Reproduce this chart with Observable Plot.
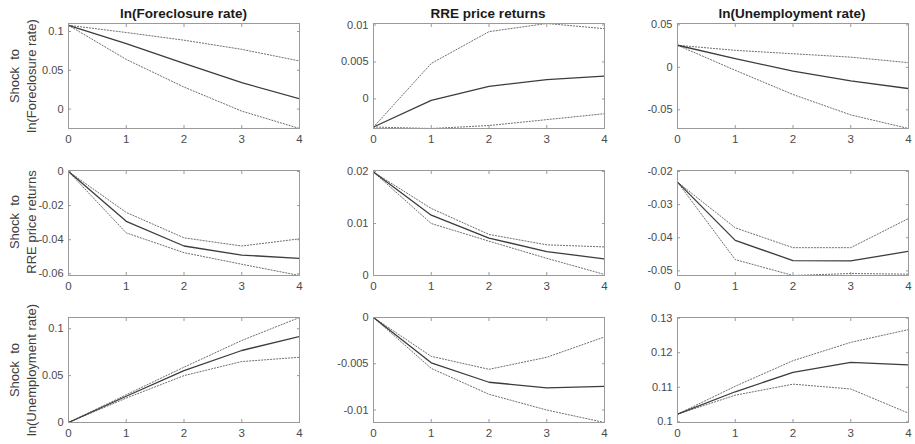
<!DOCTYPE html>
<html>
<head>
<meta charset="utf-8">
<script src="https://cdn.jsdelivr.net/npm/d3@7"></script>
<script src="https://cdn.jsdelivr.net/npm/@observablehq/plot@0.6"></script>
<style>
  body { margin: 0; background: #fff; }
  #root { position: relative; width: 915px; height: 444px; overflow: hidden; font-family: "Liberation Sans", Arial, sans-serif; background:#fff; }
  .title { position: absolute; font-weight: bold; font-size: 13.5px; color: #1a1a1a; white-space: nowrap; transform: translate(-50%, -50%); }
  .rowlab { position: absolute; font-size: 13px; color: #404040; white-space: pre; transform: translate(-50%, -50%) rotate(-90deg); line-height: 1; }
</style>
</head>
<body>
<div id="root"></div>
<script>
// ---- data ----
const horizons = [0, 1, 2, 3, 4];
const variables = ["ln(Foreclosure rate)", "RRE price returns", "ln(Unemployment rate)"];
const xTicks = [0, 1, 2, 3, 4];

// shock to ln(Foreclosure rate)
const fcToFcMid = [0.108, 0.0845, 0.059, 0.034, 0.0134];
const fcToFcUp  = [0.108, 0.0987, 0.0888, 0.077, 0.062];
const fcToFcLo  = [0.108, 0.064, 0.0284, -0.0026, -0.025];
const fcToRreMid = [-0.0038, -0.0002, 0.0017, 0.0026, 0.0031];
const fcToRreUp  = [-0.0038, 0.0048, 0.0091, 0.0102, 0.0095];
const fcToRreLo  = [-0.0038, -0.004, -0.0036, -0.0028, -0.002];
const fcToUrMid = [0.026, 0.0102, -0.0044, -0.016, -0.025];
const fcToUrUp  = [0.026, 0.02, 0.016, 0.012, 0.0055];
const fcToUrLo  = [0.026, -0.0035, -0.032, -0.056, -0.072];

// shock to RRE price returns
const rreToFcMid = [0, -0.0292, -0.0437, -0.049, -0.051];
const rreToFcUp  = [0, -0.024, -0.0389, -0.0437, -0.0395];
const rreToFcLo  = [0, -0.036, -0.0476, -0.0544, -0.061];
const rreToRreMid = [0.0199, 0.0116, 0.0072, 0.0046, 0.0032];
const rreToRreUp  = [0.0199, 0.0129, 0.0079, 0.0059, 0.0055];
const rreToRreLo  = [0.0199, 0.01, 0.0066, 0.0033, 0.0002];
const rreToUrMid = [-0.0232, -0.0408, -0.0469, -0.047, -0.0441];
const rreToUrUp  = [-0.0232, -0.037, -0.043, -0.043, -0.0342];
const rreToUrLo  = [-0.0232, -0.0466, -0.0514, -0.0508, -0.051];

// shock to ln(Unemployment rate)
const urToFcMid = [0, 0.028, 0.0554, 0.0768, 0.0918];
const urToFcUp  = [0, 0.0296, 0.059, 0.0875, 0.112];
const urToFcLo  = [0, 0.026, 0.05, 0.065, 0.0696];
const urToRreMid = [0, -0.0049, -0.007, -0.0076, -0.00745];
const urToRreUp  = [0, -0.0042, -0.0056, -0.0043, -0.0021];
const urToRreLo  = [0, -0.0055, -0.0083, -0.01, -0.01135];
const urToUrMid = [0.1022, 0.1087, 0.1143, 0.1172, 0.1165];
const urToUrUp  = [0.1022, 0.1103, 0.1177, 0.123, 0.1267];
const urToUrLo  = [0.1022, 0.1077, 0.1109, 0.1095, 0.1025];

// y tick labels per panel
const yTicks11 = [0, 0.05, 0.1];
const yTicks12 = [0, 0.005, 0.01];
const yTicks13 = [-0.05, 0, 0.05];
const yTicks21 = [-0.06, -0.04, -0.02, 0];
const yTicks22 = [0, 0.01, 0.02];
const yTicks23 = [-0.05, -0.04, -0.03, -0.02];
const yTicks31 = [0, 0.05, 0.1];
const yTicks32 = [-0.01, -0.005, 0];
const yTicks33 = [0.1, 0.11, 0.12, 0.13];

// ---- panels ----
const panels = [
  [ {mid: fcToFcMid, up: fcToFcUp, lo: fcToFcLo, ticks: yTicks11, domain: [-0.025, 0.1103]},
    {mid: fcToRreMid, up: fcToRreUp, lo: fcToRreLo, ticks: yTicks12, domain: [-0.004, 0.0102]},
    {mid: fcToUrMid, up: fcToUrUp, lo: fcToUrLo, ticks: yTicks13, domain: [-0.072, 0.0516]} ],
  [ {mid: rreToFcMid, up: rreToFcUp, lo: rreToFcLo, ticks: yTicks21, domain: [-0.061, 0.0006]},
    {mid: rreToRreMid, up: rreToRreUp, lo: rreToRreLo, ticks: yTicks22, domain: [0, 0.0202]},
    {mid: rreToUrMid, up: rreToUrUp, lo: rreToUrLo, ticks: yTicks23, domain: [-0.0514, -0.0197]} ],
  [ {mid: urToFcMid, up: urToFcUp, lo: urToFcLo, ticks: yTicks31, domain: [0, 0.112]},
    {mid: urToRreMid, up: urToRreUp, lo: urToRreLo, ticks: yTicks32, domain: [-0.01135, 0]},
    {mid: urToUrMid, up: urToUrUp, lo: urToUrLo, ticks: yTicks33, domain: [0.0998, 0.1302]} ]
];

const colLeft = [68, 372.5, 676.5];
const rowTop = [23, 169.5, 317];
const FW = 231, FH = 105;
const ML = 60, MR = 8, MT = 6, MB = 24;
const fmt = d => String(+(+d).toFixed(6));
const toRows = arr => horizons.map((h, i) => ({h, v: arr[i]}));

const root = document.getElementById("root");

panels.forEach((row, r) => {
  row.forEach((p, c) => {
    const chart = Plot.plot({
      width: ML + FW + MR,
      height: MT + FH + MB,
      marginLeft: ML, marginRight: MR, marginTop: MT, marginBottom: MB,
      style: {fontFamily: '"Liberation Sans", Arial, sans-serif', fontSize: "11px", color: "#4a4a4a", background: "transparent", overflow: "visible"},
      x: {domain: [0, 4], label: null},
      y: {domain: p.domain, label: null},
      marks: [
        Plot.line(toRows(p.up), {x: "h", y: "v", stroke: "#6e6e6e", strokeWidth: 1, strokeDasharray: "1.2,1.8", clip: true}),
        Plot.line(toRows(p.lo), {x: "h", y: "v", stroke: "#6e6e6e", strokeWidth: 1, strokeDasharray: "1.2,1.8", clip: true}),
        Plot.line(toRows(p.mid), {x: "h", y: "v", stroke: "#3c3c3c", strokeWidth: 1.3, clip: true}),
        Plot.frame({stroke: "#9a9a9a", strokeWidth: 1}),
        Plot.axisX(xTicks, {anchor: "bottom", tickSize: 0, tickPadding: 6, tickFormat: fmt, label: null, fontSize: 11.5}),
        Plot.axisY(p.ticks, {anchor: "left", tickSize: 0, tickPadding: 5, tickFormat: fmt, label: null, fontSize: 11}),
        Plot.axisX(xTicks, {anchor: "bottom", tickSize: -3, tickFormat: () => "", label: null, stroke: "#9a9a9a"}),
        Plot.axisX(xTicks, {anchor: "top", tickSize: -3, tickFormat: () => "", label: null, stroke: "#9a9a9a"}),
        Plot.axisY(p.ticks, {anchor: "left", tickSize: -3, tickFormat: () => "", label: null, stroke: "#9a9a9a"}),
        Plot.axisY(p.ticks, {anchor: "right", tickSize: -3, tickFormat: () => "", label: null, stroke: "#9a9a9a"})
      ]
    });
    chart.style.position = "absolute";
    chart.style.left = (colLeft[c] - ML) + "px";
    chart.style.top = (rowTop[r] - MT) + "px";
    root.appendChild(chart);
  });
});

// column titles
variables.forEach((name, c) => {
  const d = document.createElement("div");
  d.className = "title";
  d.textContent = name;
  d.style.left = (colLeft[c] + FW / 2) + "px";
  d.style.top = "12.5px";
  root.appendChild(d);
});

// row labels
variables.forEach((name, r) => {
  const cy = rowTop[r] + FH / 2;
  const a = document.createElement("div");
  a.className = "rowlab";
  a.textContent = "Shock  to";
  a.style.left = "13.5px";
  a.style.top = cy + "px";
  root.appendChild(a);
  const b = document.createElement("div");
  b.className = "rowlab";
  b.textContent = name;
  b.style.left = "31px";
  b.style.top = cy + "px";
  root.appendChild(b);
});
</script>
</body>
</html>
